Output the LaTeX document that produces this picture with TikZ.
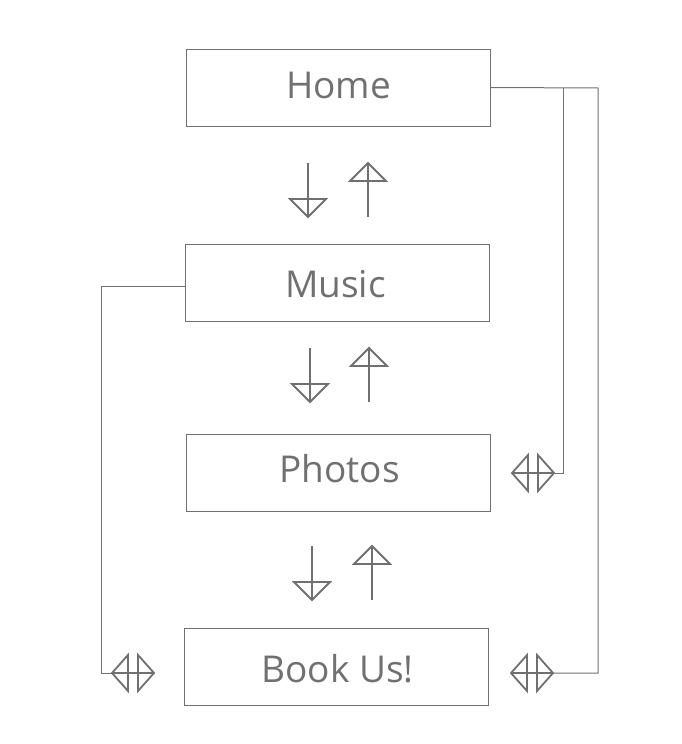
\documentclass[tikz,border=0pt]{standalone}
\usepackage{fontspec}
\setmainfont{Open Sans}
\definecolor{ln}{HTML}{707070}
\newcommand{\boxlbl}[3]{\raisebox{#2}{\kern#1\relax #3}}
\tikzset{
  box/.style={draw=ln, line width=1pt, minimum width=304pt, minimum height=77pt, inner sep=0pt, text=ln, text height=26.4pt, text depth=0pt, font=\fontsize{37}{42}\selectfont},
  conn/.style={draw=ln, line width=1pt},
  arr/.style={draw=ln, line width=1.8pt, line join=miter},
  downarr/.pic={
    \draw[arr] (0,0) -- (0,54);
    \draw[arr] (-18,36) -- (18,36) -- (0,54) -- cycle;
  },
  uparr/.pic={
    \draw[arr] (0,54) -- (0,0);
    \draw[arr] (-18,18) -- (18,18) -- (0,0) -- cycle;
  },
  dblarr/.pic={
    \draw[arr] (-21,0) -- (-5,-18) -- (-5,18) -- cycle;
    \draw[arr] (21,0) -- (5,-18) -- (5,18) -- cycle;
    \draw[arr] (-21,0) -- (21,0);
  }
}
\begin{document}
\begin{tikzpicture}[x=1pt,y=-1pt]
\useasboundingbox (0,0) rectangle (681,744);
\node[box] (home) at (338,87.5) {\boxlbl{1pt}{2pt}{Home}};
\node[box] (music) at (337,282.5) {\boxlbl{-3pt}{-2pt}{Music}};
\node[box] (photos) at (338,473) {\boxlbl{3pt}{3.5pt}{Photos}};
\node[box] (book) at (336,667) {\boxlbl{3pt}{-2.5pt}{Book Us!}};

% up/down arrows
\pic at (308,163) {downarr};
\pic at (368,163) {uparr};
\pic at (310,348) {downarr};
\pic at (369,348) {uparr};
\pic at (312,546) {downarr};
\pic at (372,546) {uparr};

% double arrow symbols
\coordinate (phsym) at (533,473);
\coordinate (bksym) at (532,673);
\coordinate (blsym) at (133,673);
\pic at (phsym) {dblarr};
\pic at (bksym) {dblarr};
\pic at (blsym) {dblarr};
\coordinate (phR) at (554,473);
\coordinate (bkR) at (553,673);
\coordinate (blL) at (112,673);

% connectors
\coordinate (hj1) at (563,88);
\coordinate (hj2) at (598,88);
\draw[conn] (home.east) -- (hj2) -- (hj2 |- bkR) -- (bkR);
\draw[conn] (hj1) -- (hj1 |- phR) -- (phR);
\coordinate (mj) at (101,286.5);
\draw[conn] (music.west |- mj) -- (mj) -- (mj |- blL) -- (blL);
\end{tikzpicture}
\end{document}
